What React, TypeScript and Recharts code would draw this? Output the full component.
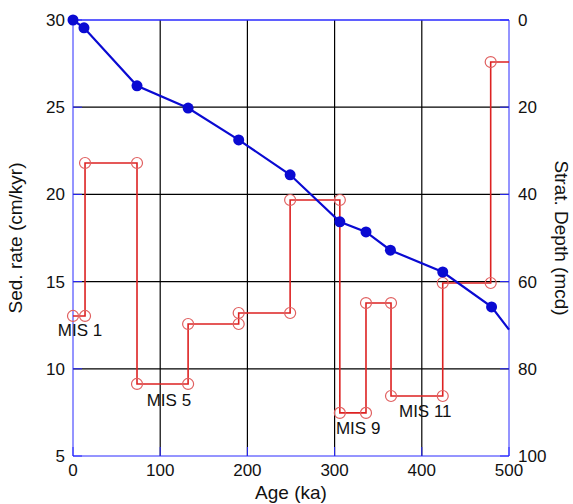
import { ComposedChart, Scatter, XAxis, YAxis, CartesianGrid, ReferenceLine, ReferenceDot } from "recharts";

// Sedimentation rate steps: interval boundaries (ka) and rate per interval (cm/kyr)
const ageBreaks = [0, 13.8, 73.4, 132, 190, 249, 306, 336, 364.7, 424, 479, 500];
const sedRates = [13.03, 21.8, 9.13, 12.57, 13.2, 19.68, 7.47, 13.77, 8.44, 14.92, 27.59];

// Age-depth tie points
const tieAges = [0, 12.6, 73.4, 132, 190, 249, 306, 336, 364, 424, 480, 500];
const tieDepths = [0, 1.8, 15.1, 20.2, 27.5, 35.5, 46.3, 48.6, 52.8, 57.8, 65.8, 71];

// Marine isotope stage labels
const misNames = ["MIS 1", "MIS 5", "MIS 9", "MIS 11"];
const misAges = [8, 110, 327, 404];
const misRates = [12.22, 8.21, 6.61, 7.58];

const xTicks = [0, 100, 200, 300, 400, 500];
const rateTicks = [5, 10, 15, 20, 25, 30];
const depthTicks = [0, 20, 40, 60, 80, 100];

const BLUE = "#0a0ad2";
const FRAME = "#2a2aff";
const RED = "#dd2222";
const RED_CIRCLE = "#e06060";

const stepData: { age: number; rate: number; noDot?: boolean }[] = [];
sedRates.forEach((r, i) => {
  stepData.push({ age: ageBreaks[i], rate: r });
  stepData.push({ age: ageBreaks[i + 1], rate: r, noDot: i === sedRates.length - 1 });
});

const depthData = tieAges.map((a, i) => ({
  age: a,
  depth: tieDepths[i],
  noDot: i === tieAges.length - 1,
}));

const tickStyle = { fill: "#111", fontSize: 17 };

export default function App() {
  return (
    <div
      style={{
        position: "absolute",
        left: 0,
        top: 0,
        width: 573,
        height: 504,
        background: "#fff",
        fontFamily: "'Liberation Sans', Arial, sans-serif",
      }}
    >
      <ComposedChart width={573} height={504} margin={{ top: 20, right: 0, bottom: 0, left: 0 }}>
        <CartesianGrid
          yAxisId="rate"
          stroke="#000"
          strokeWidth={1.2}
          horizontalValues={[10, 15, 20, 25]}
          verticalValues={[100, 200, 300, 400]}
        />
        <XAxis
          dataKey="age"
          type="number"
          domain={[0, 500]}
          ticks={xTicks}
          interval={0}
          height={48}
          stroke={FRAME}
          tickSize={-9}
          tickMargin={17}
          tick={tickStyle}
          label={{ value: "Age (ka)", position: "insideBottom", offset: 5, fontSize: 19, fill: "#111" }}
        />
        <YAxis
          yAxisId="rate"
          dataKey="rate"
          type="number"
          domain={[5, 30]}
          ticks={rateTicks}
          interval={0}
          width={73}
          stroke={FRAME}
          tickSize={-9}
          tickMargin={17}
          tick={tickStyle}
          label={{
            value: "Sed. rate (cm/kyr)",
            angle: -90,
            position: "insideLeft",
            offset: 15,
            fontSize: 19,
            fill: "#111",
            textAnchor: "middle",
          }}
        />
        <YAxis
          yAxisId="depth"
          dataKey="depth"
          orientation="right"
          type="number"
          domain={[0, 100]}
          reversed
          ticks={depthTicks}
          interval={0}
          width={64}
          stroke={FRAME}
          tickSize={-9}
          tickMargin={18}
          tick={tickStyle}
          label={{
            value: "Strat. Depth (mcd)",
            angle: 90,
            position: "insideRight",
            offset: 11,
            fontSize: 19,
            fill: "#111",
            textAnchor: "middle",
          }}
        />
        <ReferenceLine yAxisId="rate" y={30} stroke={FRAME} strokeWidth={1.5} />
        <Scatter
          yAxisId="rate"
          data={stepData}
          dataKey="rate"
          line={{ stroke: RED, strokeWidth: 1.6 }}
          lineType="joint"
          isAnimationActive={false}
          shape={(p: any) =>
            p.payload && p.payload.noDot ? (
              <g />
            ) : (
              <circle cx={p.cx} cy={p.cy} r={5.5} fill="none" stroke={RED_CIRCLE} strokeWidth={1.2} />
            )
          }
        />
        <Scatter
          yAxisId="depth"
          data={depthData}
          dataKey="depth"
          line={{ stroke: BLUE, strokeWidth: 2.2 }}
          lineType="joint"
          isAnimationActive={false}
          shape={(p: any) =>
            p.payload && p.payload.noDot ? <g /> : <circle cx={p.cx} cy={p.cy} r={5.5} fill={BLUE} />
          }
        />
        {misNames.map((name, i) => (
          <ReferenceDot
            key={name}
            yAxisId="rate"
            x={misAges[i]}
            y={misRates[i]}
            r={0}
            stroke="none"
            fill="none"
            label={{ value: name, position: "center", fontSize: 17, fill: "#111" }}
          />
        ))}
      </ComposedChart>
    </div>
  );
}
